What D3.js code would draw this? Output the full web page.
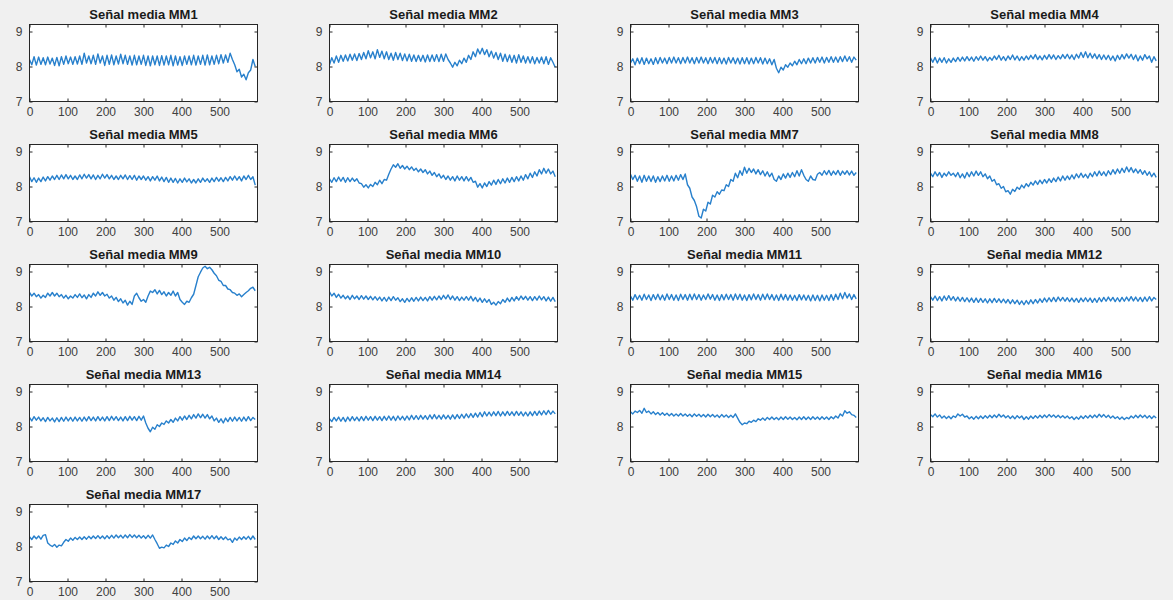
<!DOCTYPE html>
<html lang="es">
<head>
<meta charset="UTF-8">
<title>Señal media MM</title>
<script src="https://d3js.org/d3.v7.min.js"></script>
<style>
    body{
        margin: 0;
        background-color: #f0f0f0;
    }
    #canvas{
        display: block;
        background-color: #f0f0f0;
    }
    .title{
        font-family: "Liberation Sans", Arial, sans-serif;
        font-size: 13px;
        font-weight: bold;
        fill: #1a1a1a;
    }
    .axis{ color: #262626; }
    .axis text{
        font-family: "Liberation Sans", Arial, sans-serif;
        font-size: 12px;
        fill: #404040;
    }
    .axis path{ display: none; }
    .axis line{ stroke: #262626; stroke-width: 1px; }
    .box{ fill: white; stroke: #262626; stroke-width: 1px; }
    .signal{ fill: none; stroke: #2880cc; stroke-width: 1.4px; stroke-linejoin: round; }
</style>
</head>
<body>
<svg id="canvas" width="1173" height="600"></svg>
<script>
    // samples are read every 6 points (0, 6, ..., 594)
    const sampleStep = 6
    const xTicks = [0, 100, 200, 300, 400, 500]
    const yTicks = [7, 8, 9]
    const titles = d3.range(1, 18).map(i => "Señal media MM" + i)

    const mm1 = [8.2,8.05,8.28,8.04,8.27,8.06,8.25,8.05,8.27,8.07, 8.24,8.03,8.26,8.02,8.28,8.06,8.3,8.08,8.27,8.06,
        8.28,8.07,8.3,8.06,8.38,8.1,8.3,8.08,8.32,8.06, 8.36,8.1,8.3,8.03,8.32,8.06,8.33,8.05,8.3,8.07,
        8.35,8.08,8.32,8.06,8.3,8.04,8.32,8.05,8.3,8.06, 8.32,8.03,8.3,8.02,8.3,8.05,8.3,8.03,8.31,8.04,
        8.3,8.05,8.32,8.02,8.3,8.04,8.28,8.03,8.3,8.06, 8.3,8.05,8.32,8.04,8.3,8.06,8.32,8.04,8.33,8.05,
        8.3,8.06,8.32,8.08,8.34,8.1,8.33,8.12,8.38,8.2, 8.05,7.85,7.92,7.7,7.78,7.62,7.82,7.9,8.2,8.0]
    const mm2 = [8.05,8.25,8.1,8.3,8.12,8.32,8.15,8.33,8.16,8.35, 8.18,8.36,8.17,8.37,8.2,8.4,8.22,8.45,8.25,8.42,
        8.22,8.48,8.26,8.44,8.22,8.42,8.2,8.38,8.18,8.4, 8.2,8.38,8.17,8.36,8.16,8.35,8.15,8.33,8.14,8.32,
        8.15,8.32,8.13,8.33,8.14,8.33,8.15,8.34,8.14,8.35, 8.15,8.36,8.2,8.1,7.98,8.12,8.02,8.18,8.08,8.24,
        8.12,8.32,8.2,8.42,8.28,8.5,8.36,8.52,8.34,8.48, 8.28,8.44,8.24,8.4,8.2,8.38,8.15,8.35,8.14,8.33,
        8.12,8.32,8.1,8.34,8.12,8.3,8.1,8.28,8.1,8.28, 8.08,8.26,8.1,8.27,8.08,8.28,8.06,8.25,8.12,7.98]
    const mm3 = [8.1,8.22,8.05,8.24,8.08,8.25,8.06,8.24,8.08,8.22, 8.06,8.25,8.08,8.26,8.1,8.24,8.08,8.26,8.1,8.27,
        8.1,8.25,8.08,8.26,8.1,8.27,8.1,8.25,8.08,8.26, 8.1,8.27,8.1,8.25,8.08,8.26,8.1,8.26,8.08,8.25,
        8.08,8.24,8.07,8.26,8.1,8.25,8.08,8.24,8.07,8.25, 8.08,8.25,8.07,8.24,8.08,8.26,8.1,8.25,8.07,8.24,
        8.08,8.22,8.05,8.2,7.95,7.82,7.98,7.9,8.05,7.98, 8.1,8.02,8.15,8.05,8.2,8.08,8.22,8.08,8.24,8.1,
        8.25,8.1,8.26,8.12,8.27,8.1,8.26,8.12,8.28,8.12, 8.27,8.12,8.28,8.14,8.3,8.15,8.28,8.12,8.27,8.18]
    const mm4 = [8.25,8.12,8.26,8.1,8.24,8.12,8.25,8.1,8.22,8.12, 8.24,8.14,8.26,8.15,8.27,8.16,8.28,8.17,8.27,8.15,
        8.28,8.18,8.3,8.18,8.28,8.16,8.26,8.18,8.3,8.2, 8.32,8.18,8.28,8.17,8.3,8.2,8.33,8.19,8.3,8.17,
        8.28,8.18,8.3,8.2,8.32,8.22,8.34,8.2,8.3,8.19, 8.32,8.21,8.34,8.22,8.33,8.2,8.31,8.22,8.34,8.23,
        8.35,8.22,8.33,8.2,8.35,8.24,8.4,8.26,8.42,8.25, 8.38,8.24,8.36,8.22,8.34,8.2,8.33,8.2,8.32,8.18,
        8.3,8.16,8.32,8.2,8.34,8.22,8.36,8.24,8.35,8.2, 8.33,8.16,8.3,8.18,8.34,8.22,8.3,8.12,8.28,8.16]
    const mm5 = [8.28,8.14,8.25,8.12,8.24,8.14,8.27,8.16,8.28,8.18, 8.3,8.2,8.32,8.2,8.33,8.22,8.34,8.22,8.32,8.2,
        8.3,8.2,8.33,8.22,8.35,8.24,8.34,8.22,8.33,8.2, 8.32,8.22,8.35,8.24,8.34,8.22,8.32,8.2,8.3,8.2,
        8.32,8.22,8.33,8.2,8.31,8.2,8.32,8.18,8.3,8.2, 8.3,8.18,8.28,8.16,8.28,8.18,8.3,8.16,8.27,8.14,
        8.26,8.12,8.24,8.12,8.23,8.1,8.22,8.12,8.24,8.13, 8.22,8.1,8.2,8.1,8.22,8.12,8.24,8.14,8.22,8.12,
        8.24,8.14,8.26,8.15,8.25,8.14,8.26,8.16,8.28,8.18, 8.3,8.18,8.28,8.16,8.3,8.2,8.32,8.2,8.28,8.04]
    const mm6 = [8.22,8.12,8.25,8.14,8.27,8.15,8.26,8.12,8.25,8.14, 8.24,8.15,8.22,8.1,8.08,7.98,8.05,7.96,8.06,8.0,
        8.12,8.05,8.18,8.08,8.2,8.18,8.35,8.5,8.62,8.55, 8.65,8.52,8.6,8.5,8.58,8.48,8.56,8.46,8.52,8.42,
        8.5,8.4,8.48,8.36,8.44,8.32,8.4,8.28,8.36,8.24, 8.32,8.2,8.3,8.18,8.28,8.16,8.3,8.18,8.28,8.16,
        8.28,8.16,8.26,8.12,8.15,7.98,8.08,7.96,8.1,8.0, 8.14,8.04,8.18,8.06,8.2,8.08,8.22,8.1,8.24,8.12,
        8.26,8.14,8.28,8.16,8.3,8.18,8.34,8.22,8.38,8.26, 8.42,8.3,8.48,8.36,8.52,8.38,8.5,8.36,8.44,8.28]
    const mm7 = [8.35,8.2,8.32,8.15,8.3,8.12,8.32,8.15,8.3,8.14, 8.3,8.12,8.28,8.14,8.3,8.16,8.32,8.15,8.3,8.16,
        8.32,8.18,8.34,8.2,8.36,8.05,7.95,7.7,7.6,7.42, 7.15,7.1,7.35,7.3,7.55,7.5,7.75,7.7,7.85,7.78,
        7.9,7.88,8.05,8.0,8.2,8.15,8.38,8.25,8.45,8.32, 8.55,8.38,8.52,8.4,8.5,8.36,8.48,8.34,8.45,8.3,
        8.42,8.28,8.38,8.2,8.15,8.3,8.2,8.36,8.24,8.38, 8.26,8.4,8.28,8.45,8.3,8.48,8.32,8.2,8.15,8.3,
        8.2,8.18,8.35,8.4,8.32,8.45,8.34,8.46,8.32,8.44, 8.34,8.46,8.32,8.44,8.35,8.45,8.33,8.44,8.32,8.4]
    const mm8 = [8.38,8.28,8.42,8.3,8.4,8.26,8.38,8.3,8.42,8.32, 8.38,8.28,8.4,8.25,8.36,8.24,8.4,8.28,8.42,8.3,
        8.44,8.32,8.42,8.28,8.36,8.22,8.3,8.15,8.2,8.05, 8.08,7.95,8.0,7.85,7.88,7.78,7.92,7.86,7.98,7.92,
        8.04,7.96,8.08,8.0,8.12,8.04,8.16,8.06,8.18,8.08, 8.2,8.1,8.22,8.12,8.24,8.14,8.27,8.16,8.3,8.18,
        8.3,8.2,8.33,8.22,8.36,8.25,8.38,8.26,8.35,8.24, 8.38,8.28,8.42,8.3,8.44,8.32,8.42,8.3,8.45,8.34,
        8.48,8.36,8.5,8.38,8.52,8.4,8.56,8.42,8.54,8.4, 8.5,8.38,8.48,8.35,8.45,8.32,8.42,8.28,8.38,8.26]
    const mm9 = [8.4,8.3,8.38,8.28,8.34,8.24,8.32,8.26,8.38,8.3, 8.4,8.3,8.38,8.28,8.34,8.24,8.32,8.22,8.3,8.24,
        8.34,8.26,8.36,8.25,8.33,8.22,8.34,8.26,8.38,8.3, 8.42,8.32,8.4,8.3,8.35,8.24,8.3,8.18,8.26,8.14,
        8.22,8.1,8.18,8.04,8.15,8.06,8.3,8.38,8.25,8.15, 8.2,8.12,8.3,8.44,8.4,8.48,8.36,8.46,8.34,8.42,
        8.3,8.4,8.32,8.44,8.3,8.4,8.2,8.12,8.06,8.15, 8.12,8.25,8.35,8.6,8.85,8.98,9.1,9.15,9.08,9.12,
        9.05,8.95,8.88,8.75,8.72,8.6,8.6,8.5,8.48,8.4, 8.38,8.32,8.36,8.28,8.34,8.4,8.45,8.52,8.55,8.45]
    const mm10 = [8.42,8.3,8.38,8.26,8.35,8.24,8.32,8.22,8.3,8.2, 8.32,8.22,8.3,8.2,8.31,8.21,8.3,8.2,8.29,8.19,
        8.28,8.18,8.27,8.16,8.26,8.15,8.27,8.17,8.28,8.18, 8.25,8.14,8.22,8.12,8.23,8.14,8.25,8.15,8.26,8.16,
        8.27,8.17,8.26,8.16,8.28,8.18,8.29,8.19,8.3,8.2, 8.32,8.22,8.33,8.2,8.3,8.18,8.28,8.17,8.27,8.18,
        8.28,8.18,8.29,8.16,8.26,8.14,8.24,8.12,8.22,8.12, 8.2,8.06,8.12,8.04,8.14,8.08,8.2,8.12,8.24,8.14,
        8.26,8.16,8.28,8.18,8.3,8.2,8.29,8.18,8.28,8.17, 8.28,8.18,8.3,8.19,8.28,8.16,8.27,8.15,8.26,8.14]
    const mm11 = [8.3,8.18,8.34,8.2,8.32,8.18,8.35,8.2,8.33,8.17, 8.34,8.2,8.35,8.19,8.33,8.18,8.36,8.2,8.34,8.18,
        8.33,8.17,8.35,8.2,8.34,8.18,8.35,8.19,8.36,8.2, 8.34,8.18,8.33,8.2,8.36,8.21,8.34,8.18,8.33,8.17,
        8.34,8.19,8.35,8.2,8.34,8.18,8.36,8.2,8.35,8.18, 8.33,8.17,8.34,8.19,8.36,8.2,8.34,8.18,8.35,8.2,
        8.36,8.2,8.34,8.18,8.33,8.17,8.35,8.19,8.34,8.18, 8.33,8.18,8.32,8.17,8.34,8.19,8.33,8.18,8.32,8.16,
        8.33,8.17,8.32,8.16,8.33,8.18,8.32,8.17,8.34,8.18, 8.35,8.2,8.38,8.22,8.4,8.24,8.36,8.2,8.34,8.22]
    const mm12 = [8.28,8.18,8.3,8.17,8.28,8.16,8.3,8.18,8.31,8.18, 8.28,8.16,8.27,8.15,8.26,8.14,8.25,8.13,8.24,8.12,
        8.24,8.12,8.23,8.12,8.22,8.1,8.22,8.11,8.23,8.12, 8.22,8.11,8.21,8.1,8.2,8.08,8.19,8.08,8.18,8.06,
        8.16,8.05,8.17,8.07,8.19,8.08,8.2,8.1,8.22,8.12, 8.24,8.13,8.25,8.14,8.26,8.14,8.27,8.16,8.26,8.15,
        8.25,8.14,8.24,8.13,8.23,8.12,8.24,8.14,8.25,8.14, 8.24,8.12,8.23,8.12,8.25,8.14,8.26,8.15,8.27,8.16,
        8.26,8.14,8.25,8.14,8.26,8.15,8.27,8.16,8.28,8.16, 8.27,8.15,8.26,8.14,8.27,8.15,8.28,8.16,8.26,8.2]
    const mm13 = [8.26,8.16,8.28,8.18,8.27,8.16,8.25,8.14,8.26,8.16, 8.24,8.13,8.25,8.14,8.26,8.15,8.27,8.16,8.26,8.15,
        8.27,8.16,8.26,8.15,8.27,8.16,8.28,8.17,8.27,8.16, 8.28,8.17,8.27,8.16,8.28,8.17,8.29,8.18,8.28,8.17,
        8.27,8.16,8.28,8.17,8.29,8.18,8.28,8.17,8.29,8.18, 8.3,8.1,7.95,7.85,7.98,7.92,8.05,8.0,8.1,8.06,
        8.16,8.1,8.2,8.12,8.24,8.16,8.28,8.18,8.3,8.2, 8.32,8.22,8.34,8.24,8.36,8.25,8.35,8.24,8.34,8.22,
        8.3,8.16,8.24,8.12,8.22,8.1,8.24,8.14,8.26,8.15, 8.27,8.16,8.26,8.15,8.27,8.16,8.28,8.17,8.26,8.2]
    const mm14 = [8.22,8.14,8.26,8.16,8.27,8.15,8.26,8.14,8.27,8.16, 8.28,8.17,8.27,8.16,8.28,8.17,8.29,8.18,8.28,8.17,
        8.29,8.18,8.28,8.17,8.29,8.18,8.3,8.18,8.29,8.17, 8.3,8.19,8.29,8.18,8.3,8.19,8.32,8.2,8.31,8.2,
        8.32,8.21,8.31,8.2,8.33,8.22,8.34,8.22,8.32,8.21, 8.33,8.22,8.32,8.21,8.33,8.22,8.34,8.23,8.35,8.24,
        8.36,8.25,8.37,8.26,8.38,8.27,8.4,8.28,8.42,8.3, 8.41,8.3,8.42,8.31,8.43,8.3,8.42,8.31,8.43,8.32,
        8.42,8.31,8.43,8.32,8.42,8.3,8.41,8.3,8.42,8.31, 8.43,8.32,8.44,8.33,8.45,8.34,8.46,8.35,8.44,8.36]
    const mm15 = [8.42,8.36,8.44,8.4,8.46,8.38,8.52,8.4,8.44,8.36, 8.42,8.34,8.4,8.33,8.39,8.32,8.38,8.31,8.37,8.3,
        8.36,8.3,8.37,8.3,8.36,8.29,8.35,8.28,8.36,8.29, 8.35,8.28,8.34,8.27,8.35,8.28,8.34,8.27,8.33,8.26,
        8.34,8.27,8.33,8.26,8.32,8.26,8.36,8.24,8.12,8.05, 8.1,8.08,8.15,8.12,8.18,8.14,8.22,8.18,8.24,8.18,
        8.26,8.2,8.27,8.2,8.26,8.19,8.27,8.2,8.28,8.21, 8.27,8.2,8.26,8.19,8.27,8.2,8.28,8.2,8.27,8.2,
        8.28,8.21,8.27,8.2,8.28,8.21,8.27,8.2,8.28,8.22, 8.3,8.24,8.36,8.3,8.45,8.38,8.42,8.34,8.32,8.26]
    const mm16 = [8.34,8.28,8.36,8.27,8.33,8.24,8.3,8.23,8.29,8.22, 8.3,8.26,8.36,8.3,8.35,8.27,8.3,8.22,8.28,8.21,
        8.29,8.22,8.3,8.23,8.31,8.24,8.32,8.25,8.33,8.26, 8.35,8.27,8.33,8.25,8.31,8.23,8.3,8.22,8.31,8.24,
        8.3,8.2,8.28,8.21,8.3,8.23,8.31,8.24,8.32,8.25, 8.33,8.26,8.34,8.27,8.33,8.26,8.32,8.25,8.31,8.24,
        8.3,8.23,8.28,8.2,8.27,8.21,8.3,8.23,8.31,8.24, 8.32,8.25,8.33,8.26,8.35,8.27,8.34,8.26,8.32,8.24,
        8.3,8.23,8.28,8.21,8.27,8.2,8.26,8.22,8.3,8.24, 8.32,8.25,8.33,8.26,8.32,8.24,8.31,8.23,8.3,8.24]
    const mm17 = [8.28,8.2,8.3,8.22,8.3,8.21,8.32,8.34,8.1,8.04, 8.0,8.06,7.98,8.04,8.02,8.12,8.2,8.15,8.24,8.18,
        8.26,8.2,8.27,8.2,8.28,8.21,8.29,8.22,8.3,8.23, 8.31,8.23,8.3,8.22,8.31,8.23,8.32,8.24,8.33,8.25,
        8.32,8.24,8.33,8.25,8.34,8.26,8.33,8.25,8.32,8.24, 8.31,8.23,8.32,8.24,8.33,8.2,8.08,7.95,7.98,7.96,
        8.04,8.0,8.1,8.06,8.16,8.1,8.2,8.14,8.24,8.17, 8.26,8.2,8.3,8.22,8.3,8.22,8.29,8.21,8.3,8.22,
        8.31,8.22,8.3,8.2,8.28,8.2,8.27,8.19,8.22,8.12, 8.24,8.18,8.27,8.2,8.28,8.21,8.29,8.2,8.3,8.2]

    const series = [mm1, mm2, mm3, mm4, mm5, mm6, mm7, mm8, mm9, mm10, mm11, mm12, mm13, mm14, mm15, mm16, mm17]

    // subplot grid 5 x 4
    const colLeft = [29, 329, 630, 930]
    const rowTop = [24, 144, 264, 384, 504]
    const pw = 228
    const ph = 77

    const svg = d3.select("#canvas")
    const x = d3.scaleLinear().domain([0, 600]).range([0, pw])
    const y = d3.scaleLinear().domain([7, 9.2]).range([ph, 0])
    const line = d3.line()
        .x((d, i) => x(i * sampleStep))
        .y(d => y(d))

    series.forEach((values, k) => {
        const col = k % 4
        const row = Math.floor(k / 4)
        const g = svg.append("g")
            .attr("transform", `translate(${colLeft[col] + 0.5},${rowTop[row] + 0.5})`)

        g.append("rect").attr("class", "box")
            .attr("width", pw).attr("height", ph)

        g.append("clipPath").attr("id", "clip" + k)
            .append("rect").attr("width", pw).attr("height", ph)

        g.append("path").attr("class", "signal")
            .attr("clip-path", `url(#clip${k})`)
            .attr("d", line(values))

        // bottom and left with labels, top and right ticks only (box on)
        g.append("g").attr("class", "axis")
            .attr("transform", `translate(0,${ph})`)
            .call(d3.axisBottom(x).tickValues(xTicks).tickSizeInner(-3).tickSizeOuter(0).tickPadding(6))
        g.append("g").attr("class", "axis")
            .call(d3.axisLeft(y).tickValues(yTicks).tickFormat(d3.format("d"))
                .tickSizeInner(-3).tickSizeOuter(0).tickPadding(7))
        g.append("g").attr("class", "axis")
            .call(d3.axisTop(x).tickValues(xTicks).tickSizeInner(-3).tickSizeOuter(0).tickFormat(""))
        g.append("g").attr("class", "axis")
            .attr("transform", `translate(${pw},0)`)
            .call(d3.axisRight(y).tickValues(yTicks).tickSizeInner(-3).tickSizeOuter(0).tickFormat(""))

        g.append("rect")
            .attr("width", pw).attr("height", ph)
            .attr("fill", "none").attr("stroke", "#262626")

        g.append("text").attr("class", "title")
            .attr("x", pw / 2).attr("y", -6)
            .attr("text-anchor", "middle")
            .text(titles[k])
    })
</script>
</body>
</html>
